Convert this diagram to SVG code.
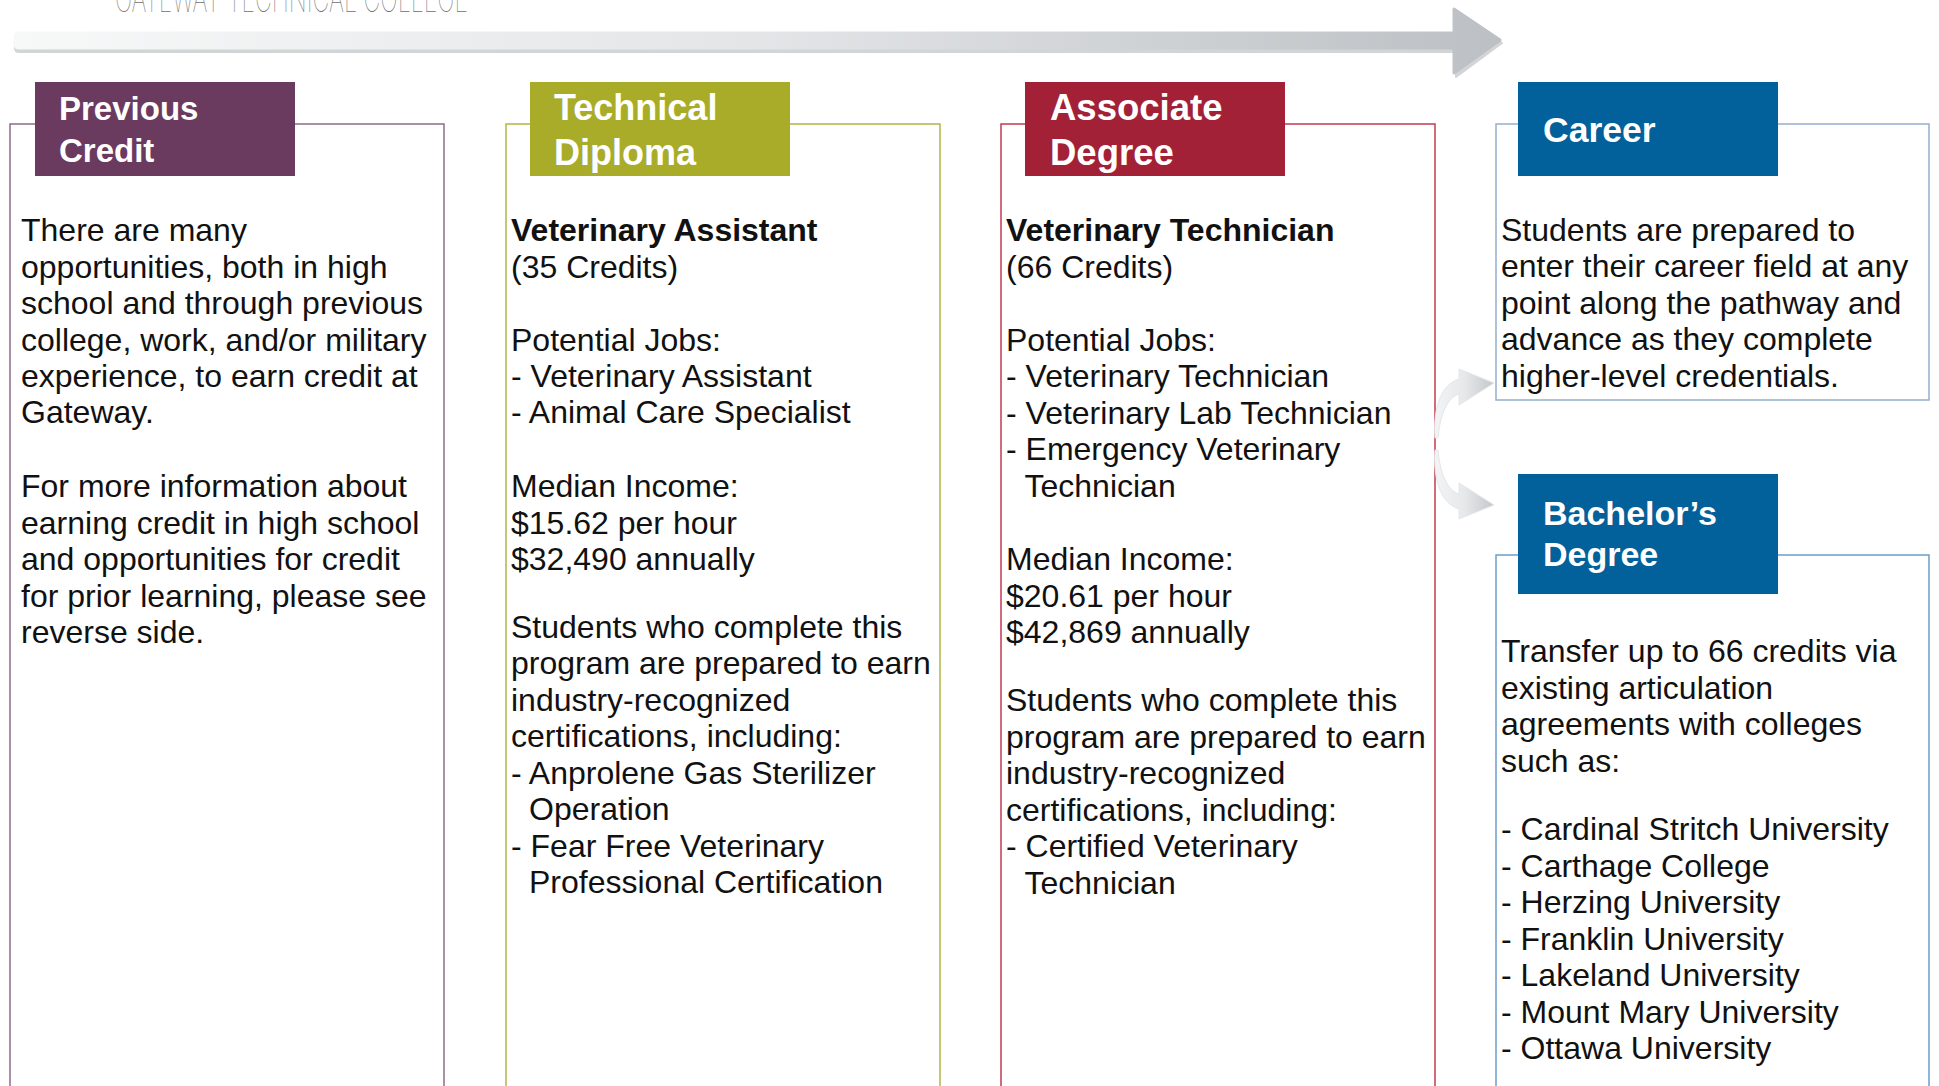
<svg xmlns="http://www.w3.org/2000/svg" width="1939" height="1086" viewBox="0 0 1939 1086">
<defs>
<style>
.body{font-family:"Liberation Sans",Arial,Helvetica,sans-serif;font-size:32px;fill:#111;}
.b{font-weight:bold;}
.hd{font-family:"Liberation Sans",Arial,Helvetica,sans-serif;font-weight:bold;fill:#fff;}
.box{fill:#fff;stroke-width:1.5;}
</style>
<linearGradient id="barGrad" gradientUnits="userSpaceOnUse" x1="15" y1="0" x2="1502" y2="0">
<stop offset="0" stop-color="#f7f8f8"/>
<stop offset="0.5" stop-color="#e3e5e7"/>
<stop offset="1" stop-color="#bcc0c4"/>
</linearGradient>
<linearGradient id="curveGrad" x1="0" y1="0" x2="1" y2="0">
<stop offset="0" stop-color="#f3f4f5"/>
<stop offset="0.5" stop-color="#e6e8ea"/>
<stop offset="1" stop-color="#c4c7cb"/>
</linearGradient>
</defs>
<rect x="0" y="0" width="1939" height="1086" fill="#fff"/>

<text x="115" y="12" font-family="Inter,'Liberation Sans',sans-serif" font-weight="100" font-size="38" fill="#6e6e6e" textLength="353" lengthAdjust="spacingAndGlyphs">GATEWAY TECHNICAL COLLEGE</text>

<g id="node-previous-credit">
<rect class="box" x="10" y="124" width="434" height="1000" stroke="#8f6b8b"/>
<rect x="35" y="82" width="260" height="94" fill="#6a3a5f"/>
<text class="hd" font-size="33"><tspan x="59" y="120">Previous</tspan><tspan x="59" y="162">Credit</tspan></text>
<text class="body">
<tspan x="21" y="241">There are many</tspan>
<tspan x="21" y="277.5">opportunities, both in high</tspan>
<tspan x="21" y="314">school and through previous</tspan>
<tspan x="21" y="350.5">college, work, and/or military</tspan>
<tspan x="21" y="387">experience, to earn credit at</tspan>
<tspan x="21" y="423">Gateway.</tspan>
<tspan x="21" y="497">For more information about</tspan>
<tspan x="21" y="533.5">earning credit in high school</tspan>
<tspan x="21" y="570">and opportunities for credit</tspan>
<tspan x="21" y="606.5">for prior learning, please see</tspan>
<tspan x="21" y="643">reverse side.</tspan>
</text>
</g>

<g id="node-technical-diploma">
<rect class="box" x="506" y="124" width="434" height="1000" stroke="#b3b645"/>
<rect x="530" y="82" width="260" height="94" fill="#a9ac28"/>
<text class="hd" font-size="36"><tspan x="554" y="119.5">Technical</tspan><tspan x="554" y="165">Diploma</tspan></text>
<text class="body">
<tspan x="511" y="241" class="b">Veterinary Assistant</tspan>
<tspan x="511" y="277.5">(35 Credits)</tspan>
<tspan x="511" y="350.5">Potential Jobs:</tspan>
<tspan x="511" y="387">- Veterinary Assistant</tspan>
<tspan x="511" y="423">- Animal Care Specialist</tspan>
<tspan x="511" y="497">Median Income:</tspan>
<tspan x="511" y="533.5">$15.62 per hour</tspan>
<tspan x="511" y="570">$32,490 annually</tspan>
<tspan x="511" y="637.5">Students who complete this</tspan>
<tspan x="511" y="674">program are prepared to earn</tspan>
<tspan x="511" y="710.5">industry-recognized</tspan>
<tspan x="511" y="747">certifications, including:</tspan>
<tspan x="511" y="783.5">- Anprolene Gas Sterilizer</tspan>
<tspan x="529" y="820">Operation</tspan>
<tspan x="511" y="856.5">- Fear Free Veterinary</tspan>
<tspan x="529" y="893">Professional Certification</tspan>
</text>
</g>

<g id="node-associate-degree">
<rect class="box" x="1001" y="124" width="434" height="1000" stroke="#c23b52"/>
<rect x="1025" y="82" width="260" height="94" fill="#a32136"/>
<text class="hd" font-size="36.5"><tspan x="1050" y="120">Associate</tspan><tspan x="1050" y="165">Degree</tspan></text>
<text class="body">
<tspan x="1006" y="241" class="b">Veterinary Technician</tspan>
<tspan x="1006" y="277.5">(66 Credits)</tspan>
<tspan x="1006" y="350.5">Potential Jobs:</tspan>
<tspan x="1006" y="387">- Veterinary Technician</tspan>
<tspan x="1006" y="423.5">- Veterinary Lab Technician</tspan>
<tspan x="1006" y="460">- Emergency Veterinary</tspan>
<tspan x="1024.5" y="496.5">Technician</tspan>
<tspan x="1006" y="570">Median Income:</tspan>
<tspan x="1006" y="606.5">$20.61 per hour</tspan>
<tspan x="1006" y="643">$42,869 annually</tspan>
<tspan x="1006" y="711">Students who complete this</tspan>
<tspan x="1006" y="747.5">program are prepared to earn</tspan>
<tspan x="1006" y="784">industry-recognized</tspan>
<tspan x="1006" y="820.5">certifications, including:</tspan>
<tspan x="1006" y="857">- Certified Veterinary</tspan>
<tspan x="1024.5" y="893.5">Technician</tspan>
</text>
</g>

<g id="node-career">
<rect class="box" x="1496" y="124" width="433" height="276" stroke="#95aecb"/>
<rect x="1518" y="82" width="260" height="94" fill="#02619a"/>
<text class="hd" font-size="35.5" x="1543" y="142">Career</text>
<text class="body">
<tspan x="1501" y="240.5">Students are prepared to</tspan>
<tspan x="1501" y="277">enter their career field at any</tspan>
<tspan x="1501" y="313.5">point along the pathway and</tspan>
<tspan x="1501" y="350">advance as they complete</tspan>
<tspan x="1501" y="386.5">higher-level credentials.</tspan>
</text>
</g>

<g id="node-bachelors-degree">
<rect class="box" x="1496" y="555" width="433" height="600" stroke="#6d9dc9"/>
<rect x="1518" y="474" width="260" height="120" fill="#02619a"/>
<text class="hd" font-size="34"><tspan x="1543" y="525">Bachelor’s</tspan><tspan x="1543" y="566">Degree</tspan></text>
<text class="body">
<tspan x="1501" y="662">Transfer up to 66 credits via</tspan>
<tspan x="1501" y="698.5">existing articulation</tspan>
<tspan x="1501" y="735">agreements with colleges</tspan>
<tspan x="1501" y="771.5">such as:</tspan>
<tspan x="1501" y="840">- Cardinal Stritch University</tspan>
<tspan x="1501" y="876.5">- Carthage College</tspan>
<tspan x="1501" y="913">- Herzing University</tspan>
<tspan x="1501" y="949.5">- Franklin University</tspan>
<tspan x="1501" y="986">- Lakeland University</tspan>
<tspan x="1501" y="1022.5">- Mount Mary University</tspan>
<tspan x="1501" y="1059">- Ottawa University</tspan>
</text>
</g>

<g id="connectors">
<g id="pathway-arrow">
<path d="M19 36 H1456 V11 L1502 43 L1456 77 V52 H19 Q15 52 15 48 V40 Q15 36 19 36 Z" fill="#d2d4d6" stroke="#d2d4d6" stroke-width="2" stroke-linejoin="round"/>
<path d="M19 33 H1454 V9 L1500 40 L1454 73 V48 H19 Q15 48 15 44 V37 Q15 33 19 33 Z" fill="url(#barGrad)" stroke="url(#barGrad)" stroke-width="3" stroke-linejoin="round"/>
</g>
<path id="arrow-to-career" d="M1435 438 C1433 410 1440 385 1459 379 L1459 369 L1494 383 L1459 405 L1459 394 C1447 398 1440 415 1438 438 Z" fill="url(#curveGrad)" stroke="#e4e6e8" stroke-width="1" stroke-linejoin="round"/>
<path id="arrow-to-bachelors" d="M1435 450 C1433 478 1440 503 1459 509 L1459 519 L1494 505 L1459 483 L1459 494 C1447 490 1440 473 1438 450 Z" fill="url(#curveGrad)" stroke="#e4e6e8" stroke-width="1" stroke-linejoin="round"/>
</g>
</svg>
